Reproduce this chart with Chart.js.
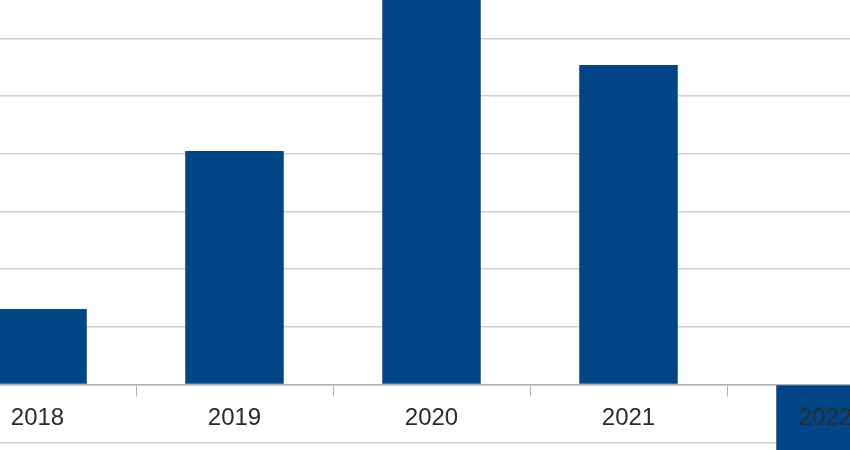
<!DOCTYPE html>
<html>
<head>
<meta charset="utf-8">
<script src="https://cdn.jsdelivr.net/npm/chart.js@4/dist/chart.umd.min.js"></script>
<style>
  html, body { margin: 0; padding: 0; width: 850px; height: 450px; overflow: hidden; background: #fff; }
  #wrap { position: absolute; left: -61px; top: -77px; width: 985px; height: 577px; }
</style>
</head>
<body>
<div id="wrap"><canvas id="chart" width="985" height="577"></canvas></div>
<script>
// years and values (one grid step = 10)
const years = ['2018', '2019', '2020', '2021', '2022'];
const values = [13.1, 40.5, 75, 55.4, -25];
const yMin = -20;
const yMax = 80;
const yStep = 10;

const ctx = document.getElementById('chart').getContext('2d');
const chart = new Chart(ctx, {
    type: 'bar',
    data: {
        labels: years,
        datasets: [{
            data: values,
            backgroundColor: '#004586',
            borderWidth: 0,
            categoryPercentage: 1,
            barPercentage: 0.5
        }]
    },
    options: {
        responsive: false,
        animation: false,
        devicePixelRatio: 1,
        layout: { padding: 0 },
        plugins: { legend: { display: false }, tooltip: { enabled: false } },
        scales: {
            x: {
                position: { y: 0 },
                grid: {
                    offset: true,
                    drawOnChartArea: false,
                    drawTicks: true,
                    tickLength: 11,
                    color: '#b3b3b3'
                },
                border: { display: true, color: '#b3b3b3', width: 1.5 },
                ticks: {
                    z: 1, // labels over the bars, like the 2022 one
                    color: '#2b2b2b',
                    font: { family: 'Liberation Sans', size: 24 },
                    padding: 8,
                    autoSkip: false,
                    maxRotation: 0
                }
            },
            y: {
                min: yMin,
                max: yMax,
                ticks: { display: false, stepSize: yStep },
                grid: { color: '#cfcfcf', lineWidth: 1.5, drawTicks: false },
                border: { display: false }
            }
        }
    }
});
</script>
</body>
</html>
